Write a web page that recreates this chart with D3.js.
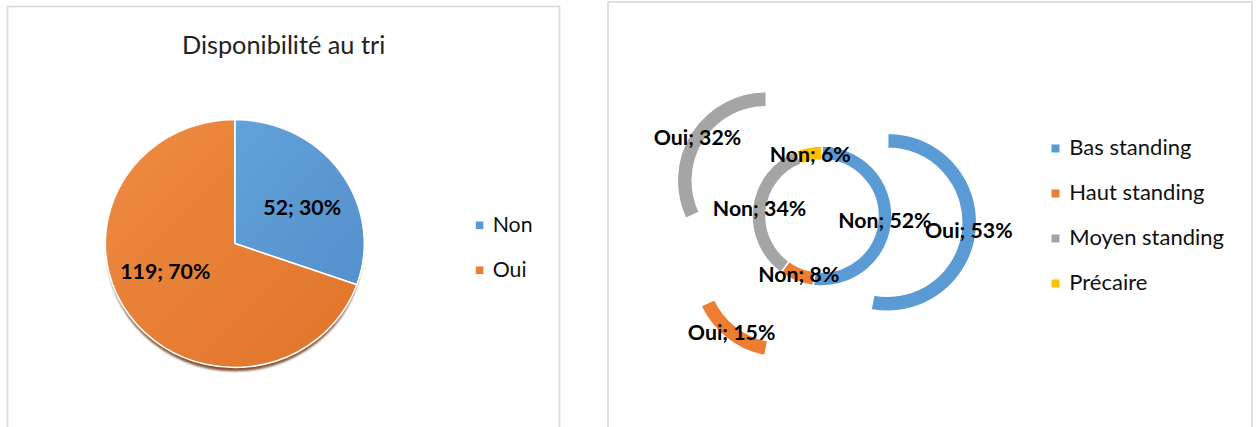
<!DOCTYPE html>
<html>
<head>
<meta charset="utf-8">
<script src="https://cdn.jsdelivr.net/npm/d3@7"></script>
<style>
  html, body { margin: 0; padding: 0; background: #ffffff; }
  svg { display: block; }
</style>
</head>
<body>
<svg id="chart" width="1257" height="427"></svg>
<script>
// ---------- data ----------
const pieTitle = "Disponibilité au tri";
const pieCategories = ["Non", "Oui"];
const pieValues = [52, 119];

const ringCategories = ["Bas standing", "Haut standing", "Moyen standing", "Précaire"];
const nonPercents = [52, 8, 34, 6];
const ouiPercents = [53, 15, 32, 0];
const seriesNames = ["Non", "Oui"];

// ---------- styles ----------
const pieColors = ["#5B9BD5", "#ED7D31"];
const pieColorsLight = ["#62A1DA", "#EF8B43"];
const pieColorsDark = ["#5591CC", "#E07429"];
const ringColors = ["#5B9BD5", "#ED7D31", "#A5A5A5", "#FFC000"];
const FONT = "Lato, 'Open Sans', 'Noto Sans', sans-serif";

const svg = d3.select("#chart");
const defs = svg.append("defs");

// frames
svg.append("rect").attr("x", 7.5).attr("y", 6.5).attr("width", 552).attr("height", 440)
  .attr("fill", "none").attr("stroke", "#d9d9d9").attr("stroke-width", 1.6);
svg.append("rect").attr("x", 608).attr("y", 2).attr("width", 644).attr("height", 440)
  .attr("fill", "none").attr("stroke", "#d9d9d9").attr("stroke-width", 1.6);

// ---------- left pie ----------
const left = svg.append("g");
left.append("text")
  .attr("x", 283.6).attr("y", 53.5)
  .attr("text-anchor", "middle")
  .attr("font-family", FONT).attr("font-size", 25.3).attr("fill", "#222")
  .text(pieTitle);

const pcx = 234.8, pcy = 243.5, rx = 129.5, ry = 124;
const pie = d3.pie().sort(null).value(d => d)(pieValues);
const arcP = d3.arc().innerRadius(0).outerRadius(rx);

pieColors.forEach((c, i) => {
  const g = defs.append("linearGradient").attr("id", "pg" + i)
    .attr("x1", "0").attr("y1", "0").attr("x2", "1").attr("y2", "1");
  g.append("stop").attr("offset", "0%").attr("stop-color", pieColorsLight[i]);
  g.append("stop").attr("offset", "100%").attr("stop-color", pieColorsDark[i]);
});
const blur = defs.append("filter").attr("id", "shadowBlur")
  .attr("x", "-10%").attr("y", "-10%").attr("width", "120%").attr("height", "120%");
blur.append("feGaussianBlur").attr("stdDeviation", 1.2);

const pieG = left.append("g")
  .attr("transform", `translate(${pcx},${pcy}) scale(1,${ry / rx})`);
// shadow
pieG.append("circle").attr("cx", 0).attr("cy", 5).attr("r", rx - 1)
  .attr("fill", "#6a3512").attr("opacity", 0.85).attr("filter", "url(#shadowBlur)");
pieG.selectAll("path.slice").data(pie).join("path")
  .attr("class", "slice")
  .attr("d", arcP)
  .attr("fill", (d, i) => `url(#pg${i})`)
  .attr("stroke", "#ffffff").attr("stroke-width", 1.6)
  .attr("vector-effect", "non-scaling-stroke");

const total = d3.sum(pieValues);
const labelArc = d3.arc().innerRadius(0).outerRadius(1.2 * rx);
const pieNudge = { Non: [4, 7], Oui: [-6, -15] };
pie.forEach((d, i) => {
  const [x, y] = labelArc.centroid(d);
  const n = pieNudge[pieCategories[i]];
  left.append("text")
    .attr("x", pcx + x + n[0])
    .attr("y", pcy + y * (ry / rx) + n[1] + 7.6)
    .attr("text-anchor", "middle")
    .attr("font-family", FONT).attr("font-weight", "bold").attr("font-size", 21.3)
    .attr("fill", "#000")
    .text(`${pieValues[i]}; ${Math.round(pieValues[i] / total * 100)}%`);
});

// legend left
pieCategories.forEach((c, i) => {
  const cy = 225.3 + i * 45;
  left.append("rect").attr("x", 475.8).attr("y", cy - 3.8).attr("width", 7.6).attr("height", 7.6)
    .attr("fill", pieColors[i]);
  left.append("text").attr("x", 492.7).attr("y", cy + 6.5)
    .attr("font-family", FONT).attr("font-size", 21.3).attr("fill", "#111")
    .text(c);
});

// ---------- right doughnut ----------
const right = svg.append("g");
const dcx = 822, dcy = 216;
const innerRing = [56, 70], outerRing = [74, 89];
const explode = 66;

const pieR = d3.pie().sort(null).value(d => d);
const nonArcs = pieR(nonPercents);
const ouiArcs = pieR(ouiPercents);

const arcIn = d3.arc().innerRadius(innerRing[0]).outerRadius(innerRing[1]);
const arcOut = d3.arc().innerRadius(outerRing[0]).outerRadius(outerRing[1]);

const dG = right.append("g").attr("transform", `translate(${dcx},${dcy})`);

function offsetOf(d) {
  const m = (d.startAngle + d.endAngle) / 2;
  return [Math.sin(m) * explode, -Math.cos(m) * explode];
}

dG.selectAll("path.non").data(nonArcs).join("path")
  .attr("class", "non")
  .attr("d", arcIn)
  .attr("fill", (d, i) => ringColors[i])
  .attr("stroke", "#fff").attr("stroke-width", 1.5);

dG.selectAll("path.oui").data(ouiArcs.filter(d => d.value > 0)).join("path")
  .attr("class", "oui")
  .attr("d", arcOut)
  .attr("transform", d => { const o = offsetOf(d); return `translate(${o[0]},${o[1]})`; })
  .attr("fill", d => ringColors[d.index])
  .attr("stroke", "#fff").attr("stroke-width", 1.5);

const lblSize = 21.3;
function ringLabel(d, arc, off, name) {
  const [x, y] = arc.centroid(d);
  dG.append("text")
    .attr("x", x + off[0]).attr("y", y + off[1] + 0.36 * lblSize)
    .attr("text-anchor", "middle")
    .attr("font-family", FONT).attr("font-weight", "bold").attr("font-size", lblSize)
    .attr("fill", "#000")
    .text(`${name}; ${d.value}%`);
}
nonArcs.forEach(d => { if (d.value > 0) ringLabel(d, arcIn, [0, 0], seriesNames[0]); });
ouiArcs.forEach(d => { if (d.value > 0) ringLabel(d, arcOut, offsetOf(d), seriesNames[1]); });

// legend right
ringCategories.forEach((c, i) => {
  const cy = 148.5 + i * 45;
  right.append("rect").attr("x", 1051.5).attr("y", cy - 4).attr("width", 8).attr("height", 8)
    .attr("fill", ringColors[i]);
  right.append("text").attr("x", 1069.3).attr("y", cy + 6.5)
    .attr("font-family", FONT).attr("font-size", 22).attr("fill", "#111")
    .text(c);
});
</script>
</body>
</html>
